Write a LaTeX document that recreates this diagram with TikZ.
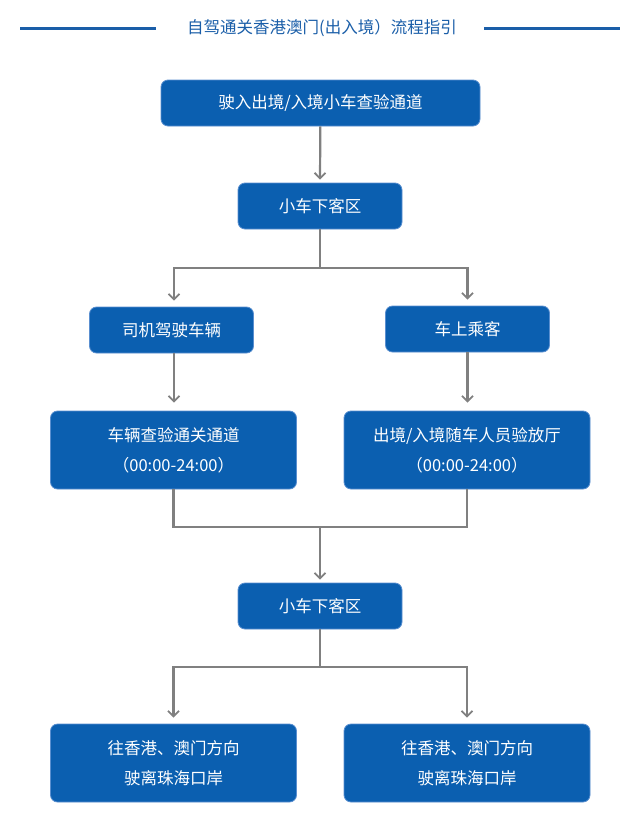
\documentclass[tikz,border=0pt]{standalone}
\usepackage{fontspec}
\setmainfont{Noto Sans CJK SC}
\usetikzlibrary{arrows.meta}

\begin{document}
\begin{tikzpicture}[x=1pt,y=-1pt,
  step box/.style={fill=boxfill,draw=boxedge,line width=0.8pt,rounded corners=7pt,
    text=white,font=\fontsize{16.5}{30}\selectfont,align=center,inner sep=0pt},
  small box/.style={step box,minimum width=164pt,minimum height=46pt},
  wide box/.style={step box,minimum width=246pt,minimum height=78pt},
  link/.style={draw=linkgray,line width=2.2pt},
  >={Straight Barb[length=5.5pt,width=11pt,line width=1.8pt]}]
  \definecolor{boxfill}{HTML}{0B5FB0}
  \definecolor{boxedge}{HTML}{5A8FD0}
  \definecolor{linkgray}{HTML}{808080}
  \definecolor{titleblue}{HTML}{1A5EA8}

  \useasboundingbox (0,0) rectangle (640,819);

  % title
  \node [text=titleblue,font=\fontsize{16.5}{20}\selectfont] (title) at (322,28)
    {自驾通关香港澳门(出入境）流程指引};
  \coordinate (tl1) at (20,28);
  \coordinate (tl2) at (156,28);
  \coordinate (tr1) at (484,28);
  \coordinate (tr2) at (620,28);
  \draw [titleblue,line width=3pt] (tl1) -- (tl2);
  \draw [titleblue,line width=3pt] (tr1) -- (tr2);

  % boxes
  \node [step box,minimum width=319pt,minimum height=46pt] (enter) at (320.5,103)
    {驶入出境/入境小车查验通道};
  \node [small box] (drop) at (320,206) {小车下客区};
  \node [small box] (driver) at (171.5,330) {司机驾驶车辆};
  \node [small box] (rider) at (467.5,329) {车上乘客};
  \node [wide box] (carcheck) at (173.5,450)
    {车辆查验通关通道\\（00:00-24:00）};
  \node [wide box] (hall) at (467,450)
    {出境/入境随车人员验放厅\\（00:00-24:00）};
  \node [small box] (pick) at (320,606) {小车下客区};
  \node [wide box] (outl) at (173.5,763)
    {往香港、澳门方向\\驶离珠海口岸};
  \node [wide box] (outr) at (467,763)
    {往香港、澳门方向\\驶离珠海口岸};

  % connectors
  \coordinate (split1) at (320,268);
  \coordinate (join) at (320,527);
  \coordinate (split2) at (320,667);

  \draw [link,->] (enter) -- ([yshift=3pt]drop.north);
  \draw [link] (drop) -- (split1);
  \draw [link,->] (split1) -| ([xshift=2.5pt,yshift=6pt]driver.north);
  \draw [link,->] (split1) -| ([yshift=6pt]rider.north);
  \draw [link,->] ([xshift=2.5pt]driver.south) -- ([xshift=2.5pt,yshift=8pt]carcheck.north -| driver.south);
  \draw [link,->] (rider.south) -- ([yshift=8pt]hall.north -| rider.south);
  \draw [link] (carcheck.south) |- (join) -| (hall.south);
  \draw [link,->] (join) -- ([yshift=3pt]pick.north);
  \draw [link] (pick) -- (split2);
  \draw [link,->] (split2) -| ([yshift=6pt]outl.north);
  \draw [link,->] (split2) -| ([yshift=6pt]outr.north);
\end{tikzpicture}
\end{document}
